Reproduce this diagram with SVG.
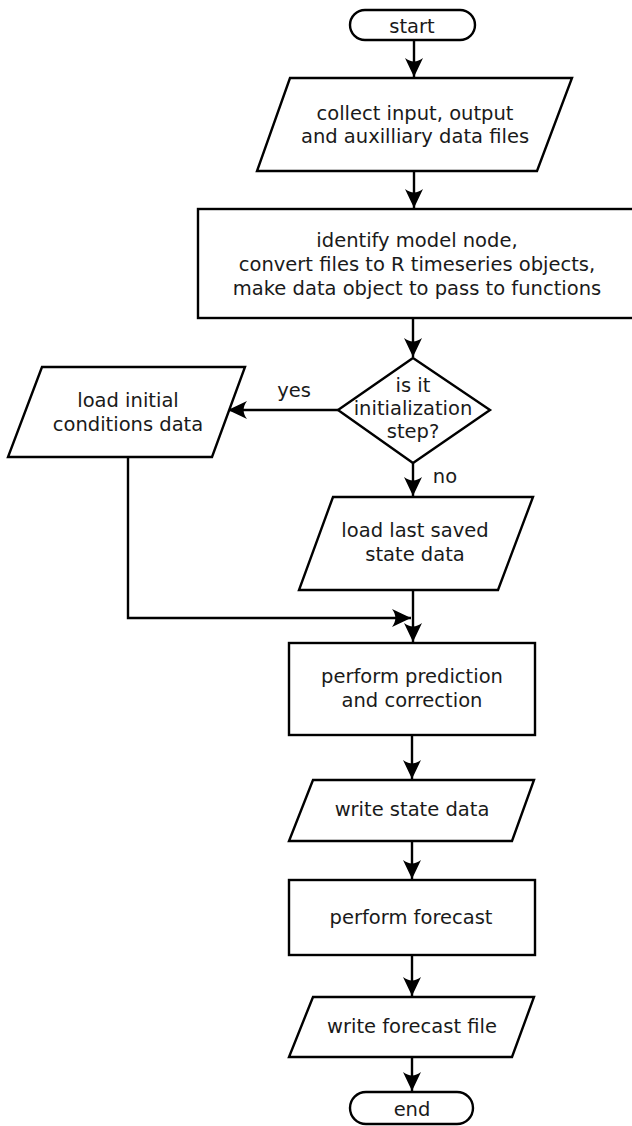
<svg xmlns="http://www.w3.org/2000/svg" width="632" height="1126" viewBox="0 0 632 1126">
<style>
.s{fill:#fff;stroke:#000;stroke-width:2.4}
.c{fill:none;stroke:#000;stroke-width:2.4}
text{font-family:"DejaVu Sans","Liberation Sans",sans-serif;font-size:19.5px;fill:#1a1a1a;text-anchor:middle}
</style>
<defs>
<marker id="ah" markerUnits="userSpaceOnUse" viewBox="-22 -11 24 22" refX="0" refY="0" markerWidth="24" markerHeight="22" orient="auto">
<path d="M0,0 L-19,-9 C-14.5,-3 -14.5,3 -19,9 Z" fill="#000"/>
</marker>
</defs>
<rect width="632" height="1126" fill="#fff"/>
<g id="connectors">
<line class="c" x1="414" y1="40" x2="414" y2="77" marker-end="url(#ah)"/>
<line class="c" x1="414" y1="171" x2="414" y2="208" marker-end="url(#ah)"/>
<line class="c" x1="413" y1="318" x2="413" y2="357" marker-end="url(#ah)"/>
<line class="c" x1="338" y1="410" x2="228" y2="410" marker-end="url(#ah)"/>
<line class="c" x1="413" y1="463" x2="413" y2="496" marker-end="url(#ah)"/>
<polyline class="c" points="128,457 128,618 411,618" marker-end="url(#ah)"/>
<line class="c" x1="413" y1="590" x2="413" y2="642" marker-end="url(#ah)"/>
<line class="c" x1="412" y1="735" x2="412" y2="779" marker-end="url(#ah)"/>
<line class="c" x1="412" y1="841" x2="412" y2="879" marker-end="url(#ah)"/>
<line class="c" x1="412" y1="955" x2="412" y2="996" marker-end="url(#ah)"/>
<line class="c" x1="412" y1="1057" x2="412" y2="1091" marker-end="url(#ah)"/>
<text x="294" y="397">yes</text>
<text x="445" y="483">no</text>
</g>
<g id="start">
<rect class="s" x="350" y="10" width="125" height="30" rx="15"/>
<text x="412" y="33">start</text>
</g>
<g id="collect">
<polygon class="s" points="290,78 572,78 537,171 257,171"/>
<text x="415" y="120">collect input, output</text>
<text x="415" y="143">and auxilliary data files</text>
</g>
<g id="identify">
<rect class="s" x="198" y="209" width="440" height="109"/>
<text x="417" y="247">identify model node,</text>
<text x="417" y="271">convert files to R timeseries objects,</text>
<text x="417" y="295">make data object to pass to functions</text>
</g>
<g id="decision">
<polygon class="s" points="413,358 490,410 413,463 338,410"/>
<text x="413" y="392">is it</text>
<text x="413" y="415">initialization</text>
<text x="413" y="438">step?</text>
</g>
<g id="loadinit">
<polygon class="s" points="42,367 245,367 212,457 8,457"/>
<text x="128" y="407">load initial</text>
<text x="128" y="431">conditions data</text>
</g>
<g id="loadlast">
<polygon class="s" points="333,497 533,497 498,590 299,590"/>
<text x="415" y="537">load last saved</text>
<text x="415" y="561">state data</text>
</g>
<g id="predict">
<rect class="s" x="289" y="643" width="246" height="92"/>
<text x="412" y="683">perform prediction</text>
<text x="412" y="707">and correction</text>
</g>
<g id="writestate">
<polygon class="s" points="313,780 534,780 512,841 289,841"/>
<text x="412" y="816">write state data</text>
</g>
<g id="forecast">
<rect class="s" x="289" y="880" width="246" height="75"/>
<text x="411" y="924">perform forecast</text>
</g>
<g id="writeforecast">
<polygon class="s" points="313,997 534,997 512,1057 289,1057"/>
<text x="412" y="1033">write forecast file</text>
</g>
<g id="end">
<rect class="s" x="350" y="1092" width="123" height="32" rx="16"/>
<text x="412" y="1116">end</text>
</g>
</svg>
